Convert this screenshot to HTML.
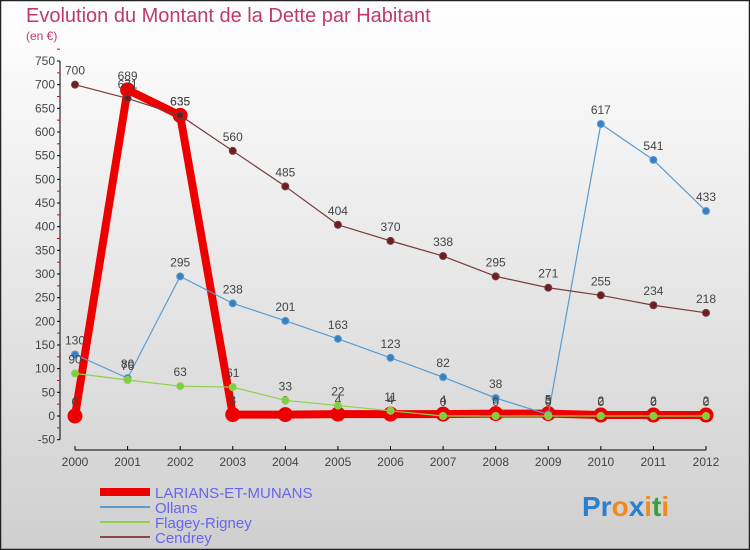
<!DOCTYPE html>
<html><head><meta charset="utf-8"><style>
body{margin:0}
#wrap{width:750px;height:550px;position:relative;overflow:hidden;font-family:"Liberation Sans",sans-serif}
</style></head><body>
<div id="wrap">
<svg id="svg" width="750" height="550" xmlns="http://www.w3.org/2000/svg">
<defs><linearGradient id="bg" x1="0" y1="0" x2="0" y2="1"><stop offset="0" stop-color="#ffffff"/><stop offset="1" stop-color="#cfcfcf"/></linearGradient></defs>
<rect x="0.5" y="0.5" width="749" height="549" fill="url(#bg)" stroke="#222" stroke-width="1.5"/>
<text x="26" y="22" font-size="20" fill="#c2386a">Evolution du Montant de la Dette par Habitant</text>
<text x="26" y="40" font-size="12" fill="#c2386a">(en €)</text>
<g id="axes"></g><g id="series"></g>
<g>
<line x1="100" y1="492" x2="150" y2="492" stroke="#e00" stroke-width="8"/>
<text x="155" y="498" font-size="15" fill="#6666ee">LARIANS-ET-MUNANS</text>
<line x1="100" y1="507" x2="150" y2="507" stroke="#5a9bd0" stroke-width="2"/>
<text x="155" y="513" font-size="15" fill="#6666ee">Ollans</text>
<line x1="100" y1="522" x2="150" y2="522" stroke="#8fd14f" stroke-width="2"/>
<text x="155" y="528" font-size="15" fill="#6666ee">Flagey-Rigney</text>
<line x1="100" y1="537" x2="150" y2="537" stroke="#8b4a4a" stroke-width="2"/>
<text x="155" y="543" font-size="15" fill="#6666ee">Cendrey</text>
</g>
<text x="582" y="516" font-size="28" font-weight="bold"><tspan fill="#2a7fd0">Pr</tspan><tspan fill="#f08a1c">o</tspan><tspan fill="#2a7fd0">x</tspan><tspan fill="#f08a1c">i</tspan><tspan fill="#3aa03a">t</tspan><tspan fill="#f08a1c">i</tspan></text>
</svg>
</div>
<script>
const years=[2000,2001,2002,2003,2004,2005,2006,2007,2008,2009,2010,2011,2012];
const yTicks=[-50,0,50,100,150,200,250,300,350,400,450,500,550,600,650,700,750];
const larians=[0,689,635,3,3,4,4,4,5,5,2,2,2];
const ollans=[130,80,295,238,201,163,123,82,38,3,617,541,433];
const flagey=[90,76,63,61,33,22,11,0,0,0,0,0,0];
const cendrey=[700,671,635,560,485,404,370,338,295,271,255,234,218];
const NS="http://www.w3.org/2000/svg";
const X=i=>75+i*(706-75)/12;
const Y=v=>416-v*(416-61)/750;
function mk(tag,attrs,parent){const e=document.createElementNS(NS,tag);for(const k in attrs)e.setAttribute(k,attrs[k]);parent.appendChild(e);return e;}
const ax=document.getElementById('axes');
const yaxis=mk('line',{x1:60,y1:Y(750),x2:60,y2:Y(-50),stroke:'#000','stroke-width':1},ax);


yTicks.forEach(t=>{
 mk('line',{x1:57,y1:Y(t),x2:60,y2:Y(t),stroke:'#000'},ax);
 mk('line',{x1:57,y1:Y(t+25),x2:60,y2:Y(t+25),stroke:'#e00'},ax);
 const tx=mk('text',{x:55,y:Y(t)+4,'font-size':12,'text-anchor':'end',fill:'#444'},ax);
 tx.textContent=t;
 
 
});
const xaxis=mk('line',{x1:X(0),y1:450,x2:X(12),y2:450,stroke:'#000'},ax);


years.forEach((y,i)=>{
 mk('line',{x1:X(i),y1:446,x2:X(i),y2:450,stroke:'#000'},ax);
 const tx=mk('text',{x:X(i),y:466,'font-size':12,'text-anchor':'middle',fill:'#444'},ax);
 tx.textContent=y;
 
 
});
const sg=document.getElementById('series');
function series(data,name,color,w,r,dot){
 const g=mk('g',{},sg);
 
 
 mk('polyline',{points:data.map((v,i)=>X(i)+','+Y(v)).join(' '),fill:'none',stroke:color,'stroke-width':w,'stroke-linejoin':'round'},g);
 data.forEach((v,i)=>{
  const c=mk('circle',{cx:X(i),cy:Y(v),r:r,fill:dot,stroke:color,'stroke-width':1},g);
  
  
  const t=mk('text',{x:X(i),y:Y(v)-10,'font-size':12,'text-anchor':'middle',fill:'#444'},g);
  t.textContent=v;
 });
}
series(larians,'series-larians','#ee0000',8,7,'#ee0000');
series(ollans,'series-ollans','#5a9bd0',1.2,3.5,'#3a80c0');
series(flagey,'series-flagey','#8fd14f',1.2,3.5,'#7cd040');
series(cendrey,'series-cendrey','#7a3a3a',1.2,3.5,'#6a2020');
</script>
</body></html>
